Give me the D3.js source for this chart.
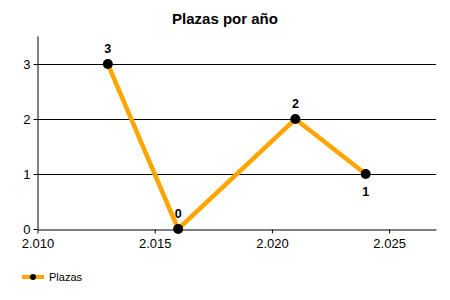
<!DOCTYPE html>
<html>
<head>
<meta charset="utf-8">
<script src="https://cdn.jsdelivr.net/npm/d3@7"></script>
<style>
  body { margin: 0; background: #fff; }
  svg text { font-family: "Liberation Sans", Arial, sans-serif; }
</style>
</head>
<body>
<div id="chart"></div>
<script>
// datos
var years = [2013, 2016, 2021, 2024]
var plazas = [3, 0, 2, 1]
var labelPos = ['above', 'above', 'above', 'below']
var xTicks = [2010, 2015, 2020, 2025]
var yTicks = [0, 1, 2, 3]

var width = 450, height = 300
var margin = {top: 36, right: 14, bottom: 71, left: 37.5}

var svg = d3.select('#chart').append('svg')
	.attr('width', width).attr('height', height)

var x = d3.scaleLinear()
	.domain([2010, 2027])
	.range([margin.left, width - margin.right])

var y = d3.scaleLinear()
	.domain([0, 3.51])
	.range([height - margin.bottom, margin.top])

var fmt = function (d) { return (d / 1000).toFixed(3) }

// title
svg.append('text')
	.attr('x', 225).attr('y', 24)
	.attr('text-anchor', 'middle')
	.attr('font-size', '15px').attr('font-weight', 'bold')
	.text('Plazas por año')

// grid lines
svg.append('g')
	.selectAll('line').data(yTicks.filter(d => d > 0)).enter()
	.append('line')
	.attr('x1', margin.left).attr('x2', width - margin.right)
	.attr('y1', d => Math.round(y(d)) + 0.5).attr('y2', d => Math.round(y(d)) + 0.5)
	.attr('stroke', '#000').attr('stroke-width', 1)

// axes
var xAxis = g => g
	.attr('transform', `translate(0,${Math.round(y(0)) + 0.5})`)
	.call(d3.axisBottom(x).tickValues(xTicks).tickFormat(fmt).tickSize(4).tickSizeOuter(0))
	.call(g => g.selectAll('text').attr('font-size', '13px').attr('fill', '#000').attr('dy', '0.85em'))

var yAxis = g => g
	.attr('transform', `translate(${margin.left},0)`)
	.call(d3.axisLeft(y).tickValues(yTicks).tickFormat(d3.format('d')).tickSize(4).tickSizeOuter(0))
	.call(g => g.selectAll('text').attr('font-size', '13px').attr('fill', '#000'))

svg.append('g').call(xAxis)
svg.append('g').call(yAxis)

var pts = years.map((d, i) => ({year: d, v: plazas[i], pos: labelPos[i]}))

// line
svg.append('path')
	.datum(pts)
	.attr('fill', 'none')
	.attr('stroke', '#FFA500')
	.attr('stroke-width', 4.5)
	.attr('stroke-linejoin', 'round')
	.attr('d', d3.line().x(d => x(d.year)).y(d => y(d.v)))

// markers
svg.append('g')
	.selectAll('circle').data(pts).enter()
	.append('circle')
	.attr('cx', d => x(d.year)).attr('cy', d => y(d.v))
	.attr('r', 5).attr('fill', '#000')

// value labels
svg.append('g')
	.selectAll('text').data(pts).enter()
	.append('text')
	.attr('x', d => x(d.year))
	.attr('y', d => d.pos == 'above' ? y(d.v) - 11 : y(d.v) + 22)
	.attr('text-anchor', 'middle')
	.attr('font-size', '12.5px').attr('font-weight', 'bold')
	.text(d => d.v)

// legend
var lg = svg.append('g').attr('transform', 'translate(22,277)')
lg.append('line').attr('x1', 0).attr('x2', 22).attr('y1', 0).attr('y2', 0)
	.attr('stroke', '#FFA500').attr('stroke-width', 4)
lg.append('circle').attr('cx', 11).attr('cy', 0).attr('r', 3).attr('fill', '#000')
lg.append('text').attr('x', 27).attr('y', 4)
	.attr('font-size', '11px').attr('fill', '#000')
	.text('Plazas')
</script>
</body>
</html>
